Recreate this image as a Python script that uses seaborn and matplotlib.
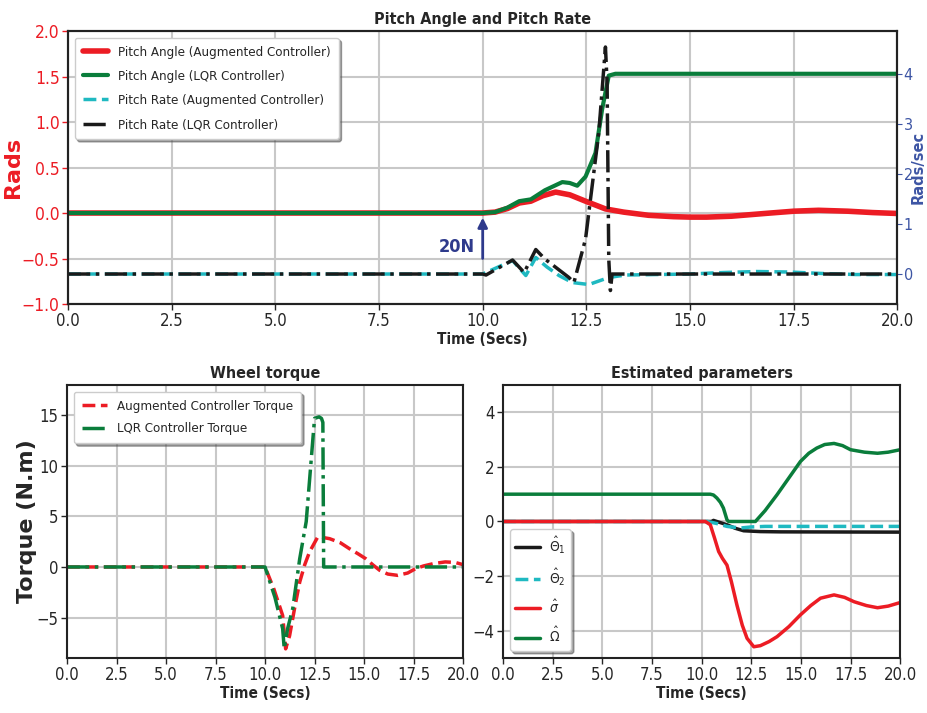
import numpy as np
import pandas as pd
import matplotlib
matplotlib.use("Agg")
import matplotlib.pyplot as plt
import seaborn as sns

# ---- Pitch angle (rads, left axis) ----
t_ang_aug = [0, 10.0, 10.3, 10.6, 10.88, 11.16, 11.45, 11.76, 12.1, 12.48, 12.96, 13.4, 14.0, 14.6, 15.0, 15.4, 16.0, 16.8, 17.5, 18.1, 18.8, 19.4, 20.0]
ang_aug = [0, 0, 0.01, 0.05, 0.11, 0.13, 0.19, 0.23, 0.2, 0.13, 0.045, 0.01, -0.025, -0.04, -0.045, -0.045, -0.035, -0.005, 0.02, 0.03, 0.02, 0.005, -0.005]

t_ang_lqr = [0, 10.0, 10.3, 10.6, 10.88, 11.16, 11.5, 11.92, 12.1, 12.28, 12.48, 12.72, 12.88, 13.04, 13.2, 20.0]
ang_lqr = [0, 0, 0.01, 0.06, 0.13, 0.15, 0.25, 0.34, 0.33, 0.3, 0.4, 0.66, 1.14, 1.51, 1.53, 1.53]

# ---- Pitch rate (rads/sec, right axis) ----
t_rate_aug = [0, 10.0, 10.72, 11.04, 11.28, 11.55, 11.84, 12.16, 12.56, 13.04, 13.44, 14.2, 15.0, 15.8, 16.6, 17.4, 18.2, 19.0, 20.0]
rate_aug = [0, 0, 0.27, -0.03, 0.33, 0.14, -0.03, -0.17, -0.21, -0.07, -0.02, -0.01, 0.0, 0.03, 0.05, 0.04, 0.01, -0.01, -0.01]

t_rate_lqr = [0, 10.0, 10.08, 10.72, 11.0, 11.28, 11.5, 12.08, 12.2, 12.48, 12.8, 12.96, 13.0, 13.04, 13.08, 13.12, 20.0]
rate_lqr = [0, 0, -0.02, 0.28, 0.03, 0.49, 0.3, -0.07, -0.17, 0.7, 2.83, 4.54, 3.83, 0.3, -0.33, 0, 0]

# ---- Wheel torque ----
t_tq_aug = [0, 10.0, 10.45, 10.89, 11.04, 11.24, 11.5, 11.75, 12.0, 12.25, 12.67, 13.26, 13.8, 14.27, 14.7, 15.1, 15.45, 15.79, 16.2, 16.7, 17.2, 17.6, 18.0, 18.5, 19.1, 19.6, 20.0]
tq_aug = [0, 0, -2.2, -4.8, -8.1, -6.8, -4.0, -1.5, 0.2, 1.5, 3.0, 2.8, 2.4, 1.8, 1.3, 0.8, 0.2, -0.33, -0.7, -0.83, -0.6, -0.17, 0.1, 0.33, 0.5, 0.45, 0.23]

t_tq_lqr = [0, 10.0, 10.5, 10.89, 10.97, 11.14, 11.4, 11.75, 12.08, 12.5, 12.73, 12.85, 12.92, 12.96, 20.0]
tq_lqr = [0, 0, -3.0, -6.1, -8.1, -6.1, -4.1, 0.8, 4.5, 14.7, 14.85, 14.7, 14.3, 0, 0]

# ---- Estimated parameters ----
t_th1 = [0, 10.5, 10.6, 11.28, 11.7, 12.12, 12.96, 14.0, 20.0]
th1 = [0, 0, 0.04, -0.12, -0.25, -0.34, -0.37, -0.38, -0.39]

t_th2 = [0, 10.3, 10.8, 11.28, 11.95, 12.5, 13.2, 20.0]
th2 = [0, 0, -0.08, -0.18, -0.24, -0.2, -0.18, -0.18]

t_sig = [0, 10.19, 10.44, 10.65, 10.86, 11.05, 11.28, 11.5, 11.78, 12.05, 12.29, 12.63, 12.96, 13.4, 13.8, 14.4, 14.98, 15.5, 15.99, 16.67, 17.2, 17.68, 18.3, 18.86, 19.4, 20.0]
sig = [0, 0, -0.12, -0.6, -1.1, -1.35, -1.6, -2.2, -3.06, -3.8, -4.28, -4.59, -4.55, -4.4, -4.22, -3.85, -3.42, -3.08, -2.81, -2.69, -2.78, -2.94, -3.08, -3.16, -3.1, -2.97]

t_om = [0, 10.44, 10.6, 10.77, 10.95, 11.1, 11.28, 11.36, 12.71, 13.2, 13.8, 14.4, 14.98, 15.4, 15.8, 16.2, 16.67, 17.1, 17.5, 18.2, 18.86, 19.4, 20.0]
om = [1.0, 1.0, 0.97, 0.86, 0.7, 0.49, 0.06, 0, 0, 0.4, 0.98, 1.6, 2.2, 2.5, 2.69, 2.82, 2.86, 2.78, 2.63, 2.54, 2.5, 2.54, 2.63]

RED = "#ec1c24"
GREEN = "#0a7d3b"
CYAN = "#1fb9c1"
BLACK = "#1a1a1a"
NAVY = "#2e3a8c"
BLUE = "#3d55a4"

sns.set_style("whitegrid", {"axes.edgecolor": "#222222", "grid.color": "#c8c8c8",
                            "xtick.bottom": True, "ytick.left": True})
plt.rcParams["font.family"] = ["DejaVu Sans"]
plt.rcParams["font.stretch"] = "condensed"

fig = plt.figure(figsize=(9.28, 7.13), dpi=100)
ax = fig.add_axes([0.0733, 0.5736, 0.8937, 0.3829])
axl = fig.add_axes([0.0722, 0.0772, 0.4268, 0.3828])
axr = fig.add_axes([0.542, 0.0772, 0.428, 0.3828])

for a in (ax, axl, axr):
    a.grid(True, lw=1.5)
    for s in a.spines.values():
        s.set_linewidth(1.5)
        s.set_color("#222222")
    a.tick_params(labelsize=12, length=4, width=1, pad=2)

leg_kw = dict(shadow=True, frameon=True, framealpha=1, edgecolor="#cccccc", fancybox=True)

# ---- top panel ----
sns.lineplot(x=t_ang_aug, y=ang_aug, ax=ax, color=RED, lw=4, sort=False,
             label="Pitch Angle (Augmented Controller)")
sns.lineplot(x=t_ang_lqr, y=ang_lqr, ax=ax, color=GREEN, lw=3, sort=False,
             label="Pitch Angle (LQR Controller)")
ax2 = ax.twinx()
ax2.grid(False)
sns.lineplot(x=t_rate_aug, y=rate_aug, ax=ax2, color=CYAN, lw=2.5, linestyle="--", sort=False,
             label="Pitch Rate (Augmented Controller)")
sns.lineplot(x=t_rate_lqr, y=rate_lqr, ax=ax2, color=BLACK, lw=2.5, linestyle="-.", sort=False,
             label="Pitch Rate (LQR Controller)")

ax.set_xlim(0, 20)
ax.set_ylim(-1, 2)
ax.set_xticks(np.arange(0, 20.01, 2.5))
ax.set_xticklabels([f"{v:.1f}" for v in np.arange(0, 20.01, 2.5)])
ax.set_yticks(np.arange(-1, 2.01, 0.5))
ax.set_yticklabels([f"{v:.1f}".replace("-", "\u2212") for v in np.arange(-1, 2.01, 0.5)])
ax.tick_params(axis="y", colors=RED, labelsize=12.5)
ax2.set_ylim(-0.6, 4.86)
ax2.set_yticks([0, 1, 2, 3, 4])
ax2.tick_params(axis="y", colors=BLUE, labelsize=11.5, length=3.5, pad=1)
for s in ax2.spines.values():
    s.set_linewidth(1.5)
    s.set_color("#222222")
ax.set_title("Pitch Angle and Pitch Rate", fontweight="bold", fontsize=11.5, pad=5)
ax.set_xlabel("Time (Secs)", fontweight="bold", fontsize=11, labelpad=1)
ax.set_ylabel("Rads", color=RED, fontweight="bold", fontsize=16, fontstretch="normal")
ax.yaxis.set_label_coords(-0.054, 0.5)
ax2.set_ylabel("Rads/sec", color=BLUE, fontweight="bold", fontsize=10.5, fontstretch="normal")
ax2.yaxis.set_label_coords(1.0165, 0.5)

h1, l1 = ax.get_legend_handles_labels()
h2, l2 = ax2.get_legend_handles_labels()
ax.get_legend().remove()
ax2.legend(h1 + h2, l1 + l2, loc="upper left", fontsize=9.5, handlelength=1.9,
           labelspacing=0.85, borderpad=0.6, **leg_kw)

ax.annotate("", xy=(10, -0.02), xytext=(10, -0.53),
            arrowprops=dict(arrowstyle="-|>", color=NAVY, lw=2, mutation_scale=14))
ax.text(9.82, -0.37, "20N", ha="right", va="center", color=NAVY, fontweight="bold", fontsize=13)

# ---- wheel torque ----
sns.lineplot(x=t_tq_aug, y=tq_aug, ax=axl, color=RED, lw=2.5, linestyle="--", sort=False,
             label="Augmented Controller Torque")
sns.lineplot(x=t_tq_lqr, y=tq_lqr, ax=axl, color=GREEN, lw=2.5, linestyle="-.", sort=False,
             label="LQR Controller Torque")
axl.set_xlim(0, 20)
axl.set_ylim(-9, 18)
axl.set_xticks(np.arange(0, 20.01, 2.5))
axl.set_xticklabels([f"{v:.1f}" for v in np.arange(0, 20.01, 2.5)])
axl.set_yticks([-5, 0, 5, 10, 15])
axl.set_title("Wheel torque", fontweight="bold", fontsize=11.5, pad=5)
axl.set_xlabel("Time (Secs)", fontweight="bold", fontsize=11, labelpad=1)
axl.set_ylabel("Torque (N.m)", fontweight="bold", fontsize=16, fontstretch="normal")
axl.yaxis.set_label_coords(-0.076, 0.5)
axl.legend(loc="upper left", fontsize=9.5, handlelength=1.9, labelspacing=0.75,
           borderpad=0.6, **leg_kw)

# ---- estimated parameters ----
sns.lineplot(x=t_th1, y=th1, ax=axr, color=BLACK, lw=2.5, sort=False, label=r"$\hat{\Theta}_1$")
sns.lineplot(x=t_th2, y=th2, ax=axr, color=CYAN, lw=2.5, linestyle="--", sort=False, label=r"$\hat{\Theta}_2$")
sns.lineplot(x=t_sig, y=sig, ax=axr, color=RED, lw=2.5, sort=False, label=r"$\hat{\sigma}$")
sns.lineplot(x=t_om, y=om, ax=axr, color=GREEN, lw=2.5, sort=False, label=r"$\hat{\Omega}$")
axr.set_xlim(0, 20)
axr.set_ylim(-5, 5)
axr.set_xticks(np.arange(0, 20.01, 2.5))
axr.set_xticklabels([f"{v:.1f}" for v in np.arange(0, 20.01, 2.5)])
axr.set_yticks([-4, -2, 0, 2, 4])
axr.set_title("Estimated parameters", fontweight="bold", fontsize=11.5, pad=5)
axr.set_xlabel("Time (Secs)", fontweight="bold", fontsize=11, labelpad=1)
axr.set_ylabel("")
axr.legend(loc="lower left", fontsize=10, handlelength=1.8, labelspacing=0.75,
           borderpad=0.4, handletextpad=0.6, **leg_kw)

fig.savefig("out.png", dpi=100)
